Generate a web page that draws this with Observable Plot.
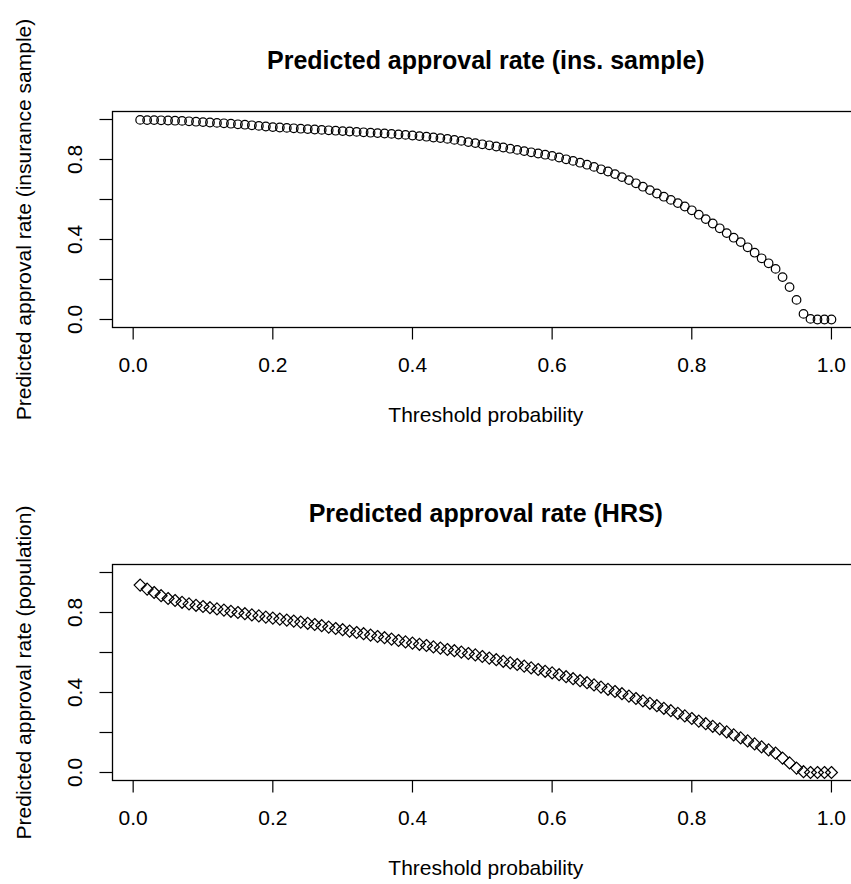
<!DOCTYPE html>
<html>
<head>
<meta charset="utf-8">
<script src="https://cdn.jsdelivr.net/npm/d3@7"></script>
<script src="https://cdn.jsdelivr.net/npm/@observablehq/plot@0.6"></script>
<style>
html, body { margin: 0; padding: 0; background: #fff; overflow: hidden; }
#wrap { position: relative; width: 851px; height: 884px; overflow: hidden; background: #fff; }
.panel { position: absolute; left: 0; max-width: none !important; width: 880px !important; height: 453px !important; }
</style>
</head>
<body>
<div id="wrap"></div>
<script>
const thresholds = [
  0.01,0.02,0.03,0.04,0.05,0.06,0.07,0.08,0.09,0.10,
  0.11,0.12,0.13,0.14,0.15,0.16,0.17,0.18,0.19,0.20,
  0.21,0.22,0.23,0.24,0.25,0.26,0.27,0.28,0.29,0.30,
  0.31,0.32,0.33,0.34,0.35,0.36,0.37,0.38,0.39,0.40,
  0.41,0.42,0.43,0.44,0.45,0.46,0.47,0.48,0.49,0.50,
  0.51,0.52,0.53,0.54,0.55,0.56,0.57,0.58,0.59,0.60,
  0.61,0.62,0.63,0.64,0.65,0.66,0.67,0.68,0.69,0.70,
  0.71,0.72,0.73,0.74,0.75,0.76,0.77,0.78,0.79,0.80,
  0.81,0.82,0.83,0.84,0.85,0.86,0.87,0.88,0.89,0.90,
  0.91,0.92,0.93,0.94,0.95,0.96,0.97,0.98,0.99,1.00
];

const insuranceRate = [
  0.998,0.997,0.997,0.996,0.995,0.994,0.993,0.991,0.989,0.987,
  0.985,0.983,0.981,0.979,0.976,0.974,0.971,0.968,0.965,0.962,
  0.960,0.958,0.956,0.954,0.952,0.950,0.948,0.946,0.944,0.942,
  0.940,0.938,0.936,0.934,0.932,0.930,0.928,0.925,0.923,0.920,
  0.917,0.914,0.910,0.907,0.903,0.898,0.893,0.887,0.882,0.876,
  0.871,0.865,0.860,0.854,0.848,0.842,0.836,0.830,0.824,0.818,
  0.810,0.801,0.793,0.784,0.774,0.763,0.751,0.740,0.727,0.712,
  0.697,0.681,0.664,0.647,0.630,0.614,0.598,0.582,0.565,0.546,
  0.524,0.502,0.480,0.456,0.432,0.409,0.387,0.361,0.334,0.306,
  0.281,0.253,0.212,0.162,0.098,0.028,0.003,0.000,0.000,0.000
];

const populationRate = [
  0.937,0.917,0.900,0.884,0.870,0.860,0.851,0.843,0.836,0.830,
  0.824,0.818,0.812,0.806,0.800,0.794,0.788,0.783,0.777,0.772,
  0.767,0.762,0.757,0.752,0.746,0.740,0.734,0.727,0.720,0.714,
  0.707,0.700,0.694,0.687,0.680,0.674,0.667,0.660,0.653,0.647,
  0.641,0.635,0.628,0.622,0.615,0.609,0.602,0.595,0.588,0.580,
  0.572,0.564,0.556,0.548,0.540,0.532,0.523,0.515,0.506,0.498,
  0.489,0.479,0.469,0.459,0.449,0.438,0.427,0.416,0.405,0.394,
  0.382,0.370,0.358,0.346,0.334,0.321,0.309,0.296,0.283,0.270,
  0.257,0.244,0.231,0.218,0.203,0.188,0.173,0.158,0.143,0.128,
  0.113,0.097,0.072,0.048,0.022,0.004,0.000,0.000,0.000,0.000
];

const xTicks = [0, 0.2, 0.4, 0.6, 0.8, 1.0];
const yTicks = [0, 0.2, 0.4, 0.6, 0.8, 1.0];
const yTickLabels = [0, 0.4, 0.8];

const titles = ["Predicted approval rate (ins. sample)", "Predicted approval rate (HRS)"];
const yLabels = ["Predicted approval rate (insurance sample)", "Predicted approval rate (population)"];
const xLabel = "Threshold probability";

const FONT = "'Liberation Sans', Arial, Helvetica, sans-serif";
const fmt = d3.format(".1f");

function panel(title, ylabel, values, symbol, r) {
  const data = thresholds.map((t, i) => ({t, v: values[i]}));
  return Plot.plot({
    width: 880,
    height: 453,
    marginLeft: 112,
    marginRight: 880 - 858.6,
    marginTop: 111,
    marginBottom: 126,
    x: {domain: [-0.0296, 1.0396]},
    y: {domain: [-0.04, 1.04]},
    style: {fontFamily: FONT, background: "white", color: "black", overflow: "visible", maxWidth: "none"},
    marks: [
      Plot.axisX(xTicks, {tickSize: 12.5, fill: "none", label: null, strokeWidth: 1.2}),
      Plot.axisY(yTicks, {tickSize: 12.5, fill: "none", label: null, strokeWidth: 1.2}),
      Plot.text(xTicks, {x: d => d, frameAnchor: "bottom", dy: 38, text: d => fmt(d),
        fontSize: 21, lineAnchor: "middle", fill: "black"}),
      Plot.text(yTickLabels, {y: d => d, frameAnchor: "left", dx: -37, text: d => fmt(d),
        fontSize: 21, rotate: -90, textAnchor: "middle", lineAnchor: "middle", fill: "black"}),
      Plot.text([xLabel], {frameAnchor: "bottom", dy: 88, text: d => d,
        fontSize: 21, lineAnchor: "middle", fill: "black"}),
      Plot.text([ylabel], {frameAnchor: "left", dx: -88, text: d => d, rotate: -90,
        fontSize: 21, textAnchor: "middle", lineAnchor: "middle", fill: "black"}),
      Plot.text([title], {frameAnchor: "top", dy: -51, text: d => d,
        fontSize: 25, fontWeight: "bold", lineAnchor: "middle", fill: "black"}),
      Plot.frame({stroke: "black", strokeWidth: 1.3}),
      Plot.dot(data, {x: "t", y: "v", r, symbol, stroke: "black", fill: "none", strokeWidth: 1.2})
    ]
  });
}

const wrap = document.getElementById("wrap");
const p1 = panel(titles[0], yLabels[0], insuranceRate, "circle", 4.3);
p1.classList.add("panel");
p1.style.top = "0px";
wrap.appendChild(p1);
const p2 = panel(titles[1], yLabels[1], populationRate, "diamond2", 5.4);
p2.classList.add("panel");
p2.style.top = "453px";
wrap.appendChild(p2);
</script>
</body>
</html>
